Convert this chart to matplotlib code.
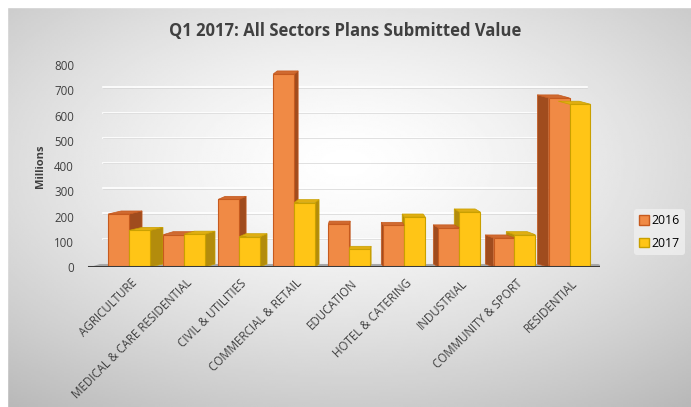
import numpy as np
import matplotlib
matplotlib.use("Agg")
import matplotlib.pyplot as plt
from matplotlib.patches import Polygon, Patch, Rectangle

# data (millions)
sectors = ["AGRICULTURE", "MEDICAL & CARE RESIDENTIAL", "CIVIL & UTILITIES",
           "COMMERCIAL & RETAIL", "EDUCATION", "HOTEL & CATERING",
           "INDUSTRIAL", "COMMUNITY & SPORT", "RESIDENTIAL"]
values_2016 = [210, 128, 268, 765, 170, 165, 155, 115, 670]
values_2017 = [145, 130, 120, 255, 70, 198, 218, 128, 645]
years = ["2016", "2017"]
yticks = [0, 100, 200, 300, 400, 500, 600, 700, 800]

plt.rcParams['font.family'] = ['Open Sans', 'DejaVu Sans']

fig = plt.figure(figsize=(6.91, 4.07), dpi=100)

# radial grey background with a white strip on top / left
bg = fig.add_axes([0, 0, 1, 1], zorder=-10)
yy, xx = np.mgrid[0:1:200j, 0:1:340j]
r = np.sqrt(((xx - 0.5) / 0.85) ** 2 + ((yy - 0.6) / 0.8) ** 2)
bg.imshow(1 - 0.3 * np.clip(r, 0, 1) ** 1.4, cmap="gray", vmin=0, vmax=1,
          extent=[0, 1, 0, 1], aspect="auto", origin="lower")
bg.add_patch(Rectangle((0, 0.982), 1, 0.02, color="white"))
bg.add_patch(Rectangle((0, 0), 0.01, 1, color="white"))
bg.set_xlim(0, 1)
bg.set_ylim(0, 1)
bg.axis("off")

ax = fig.add_axes([0.123, 0.344, 0.745, 0.496])
ax.patch.set_alpha(0)
for s in ax.spines.values():
    s.set_visible(False)

x = np.arange(len(sectors))
w = 0.38
dy = 12           # depth of the fake 3-D top face
vanish = 4.3      # bars left of this show their right side, right of it their left side

# back gridlines and floor
for t in yticks[1:]:
    ax.plot([-0.5, 8.3], [t + dy, t + dy], color="white", lw=1.2, zorder=1)
    ax.plot([-0.5, 8.3], [t + dy - 1.8, t + dy - 1.8], color="#d4d4d4", lw=0.5, zorder=1)
ax.add_patch(Polygon([[-0.72, 0], [8.62, 0], [8.5, dy], [-0.55, dy]],
                     closed=True, facecolor="#a8a8a8", edgecolor="none", zorder=1))
ax.plot([-0.75, 8.68], [0, 0], color="#3a3a3a", lw=2.2, zorder=6)

styles = [
    ("#F08A45", "#A04C1E", "#D06A30", "#C65A1E"),
    ("#FFC516", "#B38C0C", "#E0AE12", "#C9A000"),
]
offsets = [-0.21, 0.17]

for vals, off, (face, side, top, edge) in zip([values_2016, values_2017], offsets, styles):
    ax.bar(x + off, vals, width=w, color=face, edgecolor=edge, linewidth=0.8, zorder=3)
    for i, v in zip(x, vals):
        l = i + off - w / 2
        dx = 0.055 * (vanish - i)
        edge_x = l + w if dx > 0 else l
        ax.add_patch(Polygon([[edge_x, 0], [edge_x + dx, dy], [edge_x + dx, v + dy], [edge_x, v]],
                             closed=True, facecolor=side, edgecolor=edge, lw=0.5, zorder=2))
        ax.add_patch(Polygon([[l, v], [l + dx, v + dy], [l + w + dx, v + dy], [l + w, v]],
                             closed=True, facecolor=top, edgecolor=edge, lw=0.5, zorder=4))

ax.set_xlim(-0.82, 8.53)
ax.set_ylim(0, 800)
ax.set_yticks(yticks)
ax.set_yticklabels([str(t) for t in yticks], fontsize=8.3, color="#404040")
ax.set_xticks(x)
ax.set_xticklabels(sectors, rotation=45, ha="right", rotation_mode="anchor",
                   fontsize=8.3, color="#404040")
ax.tick_params(length=0, pad=7)
ax.tick_params(axis="y", pad=8)
ax.set_ylabel("Millions", fontsize=8, fontweight="bold", color="#404040", labelpad=6)

fig.text(0.5, 0.925, "Q1 2017: All Sectors Plans Submitted Value", ha="center",
         va="center", fontsize=12, fontweight="bold", color="#404040")

handles = [Patch(facecolor=styles[i][0], edgecolor=styles[i][3]) for i in range(2)]
fig.legend(handles, years, loc="center left", bbox_to_anchor=(0.918, 0.43),
           fontsize=8.8, frameon=True, facecolor="#f0f0f0", edgecolor="none",
           handlelength=0.8, handleheight=0.8, handletextpad=0.2,
           labelspacing=0.8, borderpad=0.4, borderaxespad=0)

fig.savefig("out.png", dpi=100)
